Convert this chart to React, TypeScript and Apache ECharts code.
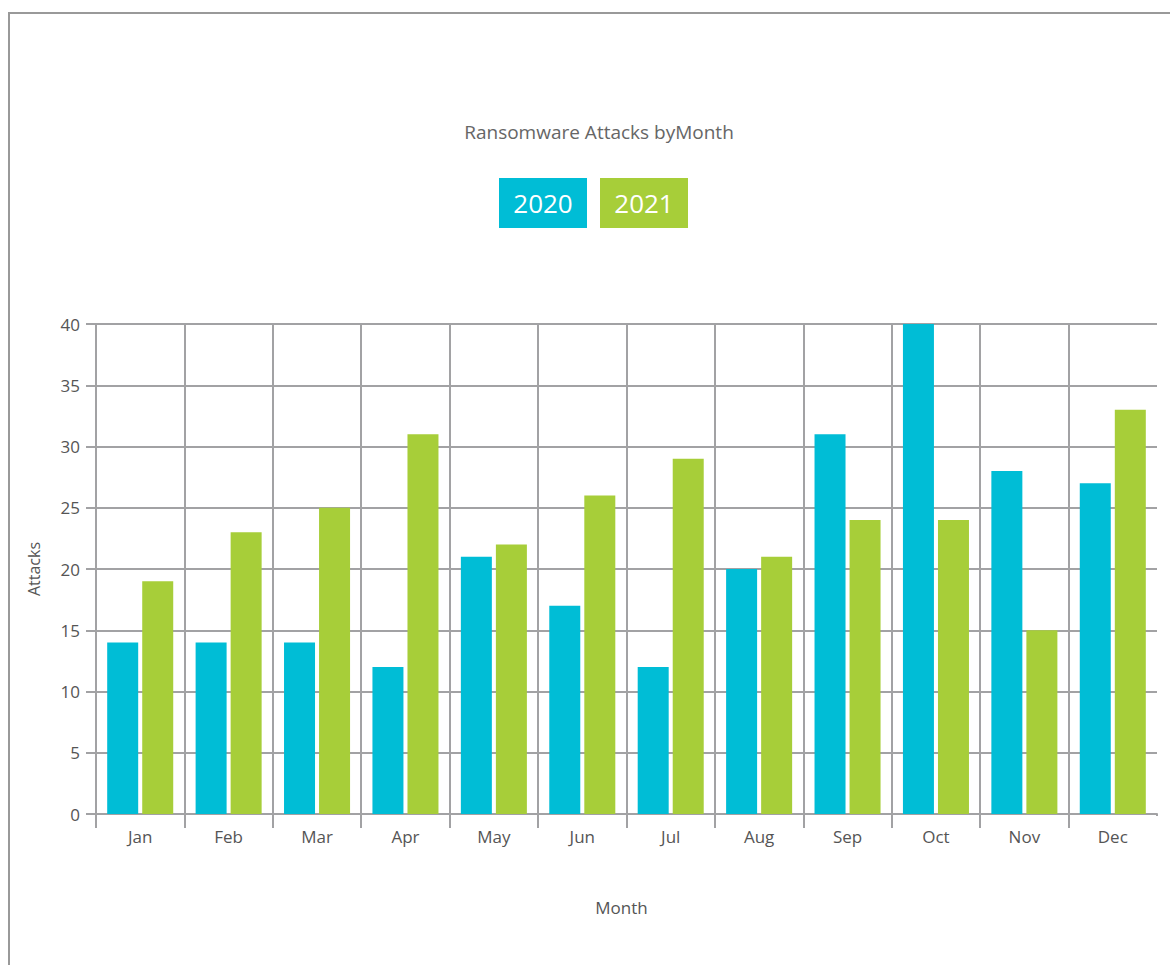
import React, { useEffect, useRef } from "react";
import * as echarts from "echarts";

const months = ["Jan", "Feb", "Mar", "Apr", "May", "Jun", "Jul", "Aug", "Sep", "Oct", "Nov", "Dec"];
const attacks2020 = [14, 14, 14, 12, 21, 17, 12, 20, 31, 40, 28, 27];
const attacks2021 = [19, 23, 25, 31, 22, 26, 29, 21, 24, 24, 15, 33];
const yTicks = [0, 5, 10, 15, 20, 25, 30, 35, 40];

const C2020 = "#00bdd6";
const C2021 = "#a7ce39";
const GRID = "#a2a2a4";
const FONT = "'Open Sans', Lato, sans-serif";

export default function App() {
  const ref = useRef<HTMLDivElement>(null);
  useEffect(() => {
    document.body.style.margin = "0";
    const chart = echarts.init(ref.current!, null, { renderer: "svg" });
    const legendBox = (bg: string) => ({
      backgroundColor: bg, color: "#ffffff", fontSize: 26, fontFamily: FONT,
      width: 88, height: 50, lineHeight: 50, align: "center", verticalAlign: "middle",
    });
    chart.setOption({
      animation: false,
      backgroundColor: "#ffffff",
      textStyle: { fontFamily: FONT },
      title: {
        text: "Ransomware Attacks byMonth",
        left: 594,
        textAlign: "center",
        top: 117,
        textStyle: { fontFamily: FONT, fontSize: 19, fontWeight: "normal", color: "#666666" },
      },
      legend: {
        top: 178,
        left: 494,
        padding: 0,
        itemGap: 8,
        itemWidth: 0,
        itemHeight: 0,
        selectedMode: false,
        data: ["2020", "2021"],
        formatter: (name: string) => (name === "2020" ? "{a|" + name + "}" : "{b|" + name + "}"),
        textStyle: {
          rich: { a: legendBox(C2020), b: legendBox(C2021) },
        },
      },
      grid: { left: 96, right: 13, top: 324, bottom: 151, containLabel: false },
      xAxis: {
        type: "category",
        data: months,
        name: "Month",
        nameLocation: "middle",
        nameGap: 85,
        nameTextStyle: { fontSize: 17, color: "#555555", fontFamily: FONT, padding: [0, 10, 0, 0] },
        axisLine: { show: true, lineStyle: { color: GRID, width: 2 } },
        axisTick: { show: true, length: 14, lineStyle: { color: GRID, width: 2 } },
        axisLabel: { fontSize: 17, color: "#555555", margin: 14, fontFamily: FONT },
        splitLine: { show: true, showMaxLine: false, lineStyle: { color: GRID, width: 2 } },
      },
      yAxis: {
        type: "value",
        min: yTicks[0],
        max: yTicks[yTicks.length - 1],
        interval: 5,
        name: "Attacks",
        nameLocation: "middle",
        nameGap: 54,
        nameTextStyle: { fontSize: 16, color: "#555555", fontFamily: FONT },
        axisLine: { show: true, lineStyle: { color: GRID, width: 2 } },
        axisTick: { show: true, length: 10, lineStyle: { color: GRID, width: 2 } },
        axisLabel: { fontSize: 17, color: "#555555", margin: 16, fontFamily: FONT },
        splitLine: { show: true, lineStyle: { color: GRID, width: 2 } },
      },
      series: [
        { name: "2020", type: "bar", data: attacks2020, barWidth: 31, barGap: "13%", itemStyle: { color: C2020 } },
        { name: "2021", type: "bar", data: attacks2021, barWidth: 31, barGap: "13%", itemStyle: { color: C2021 } },
      ],
      graphic: [
        { type: "line", shape: { x1: 9, y1: 12, x2: 9, y2: 965 }, style: { stroke: "#999999", lineWidth: 2 } },
        { type: "line", shape: { x1: 8, y1: 13, x2: 1170, y2: 13 }, style: { stroke: "#999999", lineWidth: 2 } },
        { type: "rect", z: 100, shape: { x: 1156, y: 816, width: 6, height: 16 }, style: { fill: "#ffffff" } },
      ],
    });
    return () => chart.dispose();
  }, []);
  return <div ref={ref} style={{ width: 1170, height: 965 }} />;
}
